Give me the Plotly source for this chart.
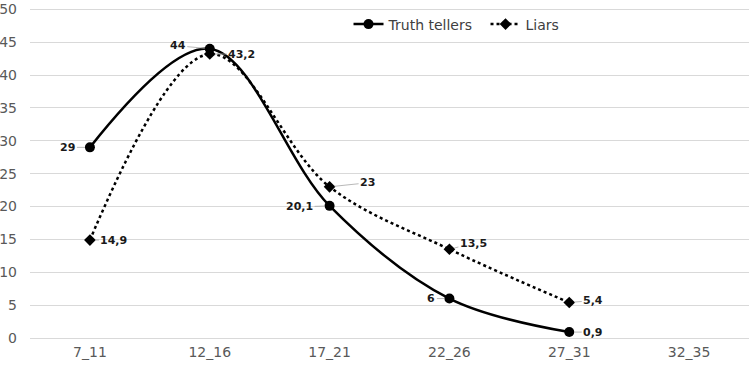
import plotly.graph_objects as go

categories = ["7_11", "12_16", "17_21", "22_26", "27_31", "32_35"]
truth_tellers = [29, 44, 20.1, 6, 0.9]
liars = [14.9, 43.2, 23, 13.5, 5.4]
y_ticks = [0, 5, 10, 15, 20, 25, 30, 35, 40, 45, 50]

truth_offsets = [(-22, 0), (-32, -3), (-30, 1), (-18, 0), (24, 0)]
liar_offsets = [(24, 0), (32, 0), (38, -4), (24, -6), (24, -2)]

def fmt(v):
    return (f"{v:g}").replace(".", ",")

fig = go.Figure()
fig.add_trace(go.Scatter(
    x=categories[:len(truth_tellers)], y=truth_tellers, name="Truth tellers",
    mode="lines+markers",
    line=dict(color="black", width=2.5, shape="spline", smoothing=1.0),
    marker=dict(symbol="circle", size=10, color="black"),
))
fig.add_trace(go.Scatter(
    x=categories[:len(liars)], y=liars, name="Liars",
    mode="lines+markers",
    line=dict(color="black", width=2.5, dash="dot", shape="spline", smoothing=1.0),
    marker=dict(symbol="diamond", size=9, color="black"),
))

annotations = []
for series, offs in ((truth_tellers, truth_offsets), (liars, liar_offsets)):
    for i, v in enumerate(series):
        ax, ay = offs[i]
        annotations.append(dict(
            x=categories[i], y=v, xref="x", yref="y", text=f"<b>{fmt(v)}</b>",
            showarrow=True, arrowhead=0, arrowwidth=0.8, arrowcolor="#a6a6a6",
            ax=ax, ay=ay, standoff=5,
            font=dict(family="DejaVu Sans", size=11, color="#1a1a1a"),
        ))

fig.update_layout(
    width=749, height=365,
    margin=dict(l=30, r=0, t=8, b=27, autoexpand=False),
    paper_bgcolor="white", plot_bgcolor="white",
    font=dict(family="DejaVu Sans", size=14, color="#595959"),
    showlegend=True,
    legend=dict(orientation="h", x=0.443, y=0.95, xanchor="left", yanchor="middle",
                font=dict(size=14, color="#404040"), bgcolor="rgba(0,0,0,0)",
                itemwidth=30, entrywidth=92),
    annotations=annotations,
)
fig.update_xaxes(
    type="category", categoryorder="array", categoryarray=categories,
    range=[-0.5, len(categories) - 0.5], showgrid=False, showline=False,
    ticks="", ticklabelstandoff=4, automargin=False,
    tickfont=dict(size=14, color="#595959"),
)
fig.update_yaxes(
    range=[0, 50.2], tickvals=y_ticks, showgrid=True, gridcolor="#d9d9d9", gridwidth=1,
    zeroline=True, zerolinecolor="#d9d9d9", zerolinewidth=1, showline=False,
    ticks="", ticklabelstandoff=12, ticklabeloverflow="allow", automargin=False,
    tickfont=dict(size=14, color="#595959"),
)
fig.write_html("out.html", config={"displayModeBar": False},
               post_script="document.body.style.margin='0';document.body.style.overflow='hidden';")
